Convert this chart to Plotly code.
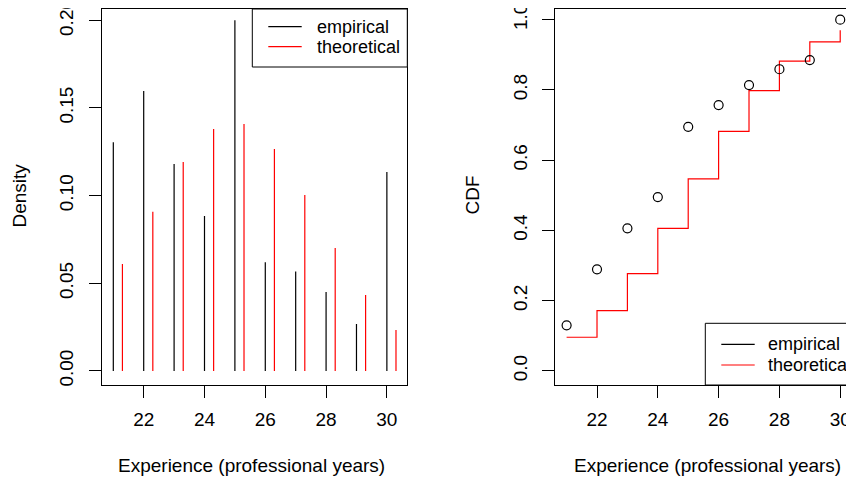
import plotly.graph_objects as go

# experience values (years) and fitted vs observed probabilities
years = [21, 22, 23, 24, 25, 26, 27, 28, 29, 30]
emp_density = [0.1304, 0.1597, 0.118, 0.0884, 0.2, 0.062, 0.0568, 0.045, 0.0268, 0.1135]
theo_density = [0.061, 0.0908, 0.1192, 0.138, 0.1409, 0.1266, 0.1004, 0.0701, 0.0433, 0.0234]
emp_cdf = [0.130, 0.2895, 0.406, 0.495, 0.695, 0.757, 0.814, 0.859, 0.885, 1.0]
theo_cdf = [0.096, 0.172, 0.277, 0.406, 0.547, 0.682, 0.798, 0.882, 0.937, 0.970]

# page body has an 8px margin, so the figure is sized to fit the window
OFF = 8
W, H = 854 - OFF, 482 - OFF
FONT = "Liberation Sans, Arial, sans-serif"
FS = 19
RED = "#ff0000"
TOP = 9  # top edge of the plot boxes (page px)


def px_x(v):
    return (v - OFF) / W


def px_y(v):
    return 1 - (v - OFF) / H


def stems(xs, ys, shift=0.0):
    sx, sy = [], []
    for x, y in zip(xs, ys):
        sx += [x + shift, x + shift, None]
        sy += [0, y, None]
    return sx, sy


fig = go.Figure()

ex, ey = stems(years, emp_density)
tx, ty = stems(years, theo_density, 0.3)
fig.add_trace(go.Scatter(x=ex, y=ey, mode="lines", line=dict(color="black", width=1.2),
                         xaxis="x", yaxis="y", showlegend=False))
fig.add_trace(go.Scatter(x=tx, y=ty, mode="lines", line=dict(color=RED, width=1.2),
                         xaxis="x", yaxis="y", showlegend=False))

fig.add_trace(go.Scatter(x=years, y=theo_cdf, mode="lines", line=dict(color=RED, width=1.2, shape="hv"),
                         xaxis="x2", yaxis="y2", showlegend=False))
fig.add_trace(go.Scatter(x=years, y=emp_cdf, mode="markers",
                         marker=dict(symbol="circle-open", size=9, color="black", line=dict(width=1.2)),
                         xaxis="x2", yaxis="y2", showlegend=False))

ydom = [px_y(385), px_y(TOP)]
common_x = dict(showgrid=False, zeroline=False, showline=True, linecolor="black", linewidth=1,
                ticks="outside", ticklen=12, tickcolor="black", tickfont=dict(family=FONT, size=FS, color="black"),
                tickvals=[22, 24, 26, 28, 30], automargin=False, ticklabelstandoff=5)
common_y = dict(showgrid=False, zeroline=False, showline=True, linecolor="black", linewidth=1,
                ticks="outside", ticklen=12, tickcolor="black", tickfont=dict(family=FONT, size=FS, color="black"),
                tickangle=-90, automargin=False, ticklabelstandoff=8, ticklabeloverflow="allow")

fig.update_layout(
    width=W, height=H,
    margin=dict(l=0, r=0, t=0, b=0),
    paper_bgcolor="white", plot_bgcolor="white",
    template="none",
    xaxis=dict(common_x, domain=[px_x(102), px_x(407.3)], range=[20.628, 30.672], mirror=True, anchor="y"),
    yaxis=dict(common_y, domain=ydom, range=[-0.008, 0.2 + (20.3 - TOP) / 1753.5], mirror=True, anchor="x",
               tickvals=[0, 0.05, 0.1, 0.15, 0.2], ticktext=["0.00", "0.05", "0.10", "0.15", "0.20"]),
    xaxis2=dict(common_x, domain=[px_x(555.3), 1.0], range=[20.628, 20.628 + 298.7 / 30.4], mirror=True, anchor="y2"),
    yaxis2=dict(common_y, domain=ydom, range=[-0.0399, 1 + (19.7 - TOP) / 351.3], anchor="x2",
                tickvals=[0, 0.2, 0.4, 0.6, 0.8, 1.0], ticktext=["0.0", "0.2", "0.4", "0.6", "0.8", "1.0"]),
)

ann = []
txt = dict(family=FONT, size=FS, color="black")
base = dict(xref="paper", yref="paper", showarrow=False, font=txt, xanchor="center", yanchor="middle")
ann.append(dict(base, text="Experience (professional years)", x=px_x(251), y=px_y(465.7)))
ann.append(dict(base, text="Experience (professional years)", x=px_x(707.3), y=px_y(465.7)))
ann.append(dict(base, text="Density", x=px_x(19), y=px_y(195.5), textangle=-90))
ann.append(dict(base, text="CDF", x=px_x(472), y=px_y(195.5), textangle=-90))

shapes = []


def legend(x0, y0, x1, y1, lx0, lx1, ly1, ly2, tx0):
    shapes.append(dict(type="rect", xref="paper", yref="paper", x0=px_x(x0), x1=px_x(x1), y0=px_y(y1), y1=px_y(y0),
                       line=dict(color="black", width=1), fillcolor="white", layer="above"))
    for ly, col, lab in [(ly1, "black", "empirical"), (ly2, RED, "theoretical")]:
        shapes.append(dict(type="line", xref="paper", yref="paper", x0=px_x(lx0), x1=px_x(lx1), y0=px_y(ly), y1=px_y(ly),
                           line=dict(color=col, width=1.2), layer="above"))
        ann.append(dict(base, text=lab, x=px_x(tx0), y=px_y(ly), xanchor="left",
                        font=dict(family=FONT, size=18, color="black")))


legend(252.3, TOP, 407.3, 67, 268.3, 301.7, 26.7, 46.7, 315)
legend(705.3, 323.3, 870, 385, 721.3, 754.7, 344.3, 365, 765.5)

fig.update_layout(annotations=ann, shapes=shapes)
fig.write_html("out.html")
